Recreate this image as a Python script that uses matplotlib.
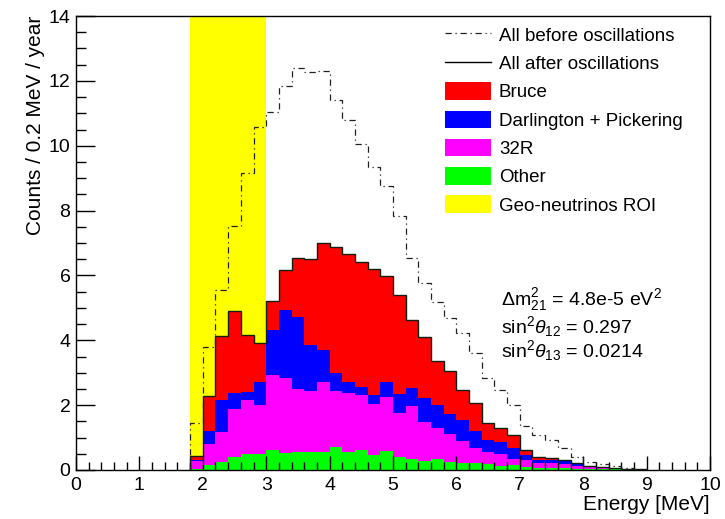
import numpy as np
import matplotlib.pyplot as plt
from matplotlib.lines import Line2D
from matplotlib.patches import Patch

# histogram binning: 0.2 MeV bins from 1.8 to 9.0 MeV
bin_width = 0.2
edges = np.round(1.8 + bin_width * np.arange(37), 2)

# counts per bin for each reactor source
other = [0.03, 0.15, 0.24, 0.39, 0.49, 0.49, 0.61, 0.51, 0.57, 0.54, 0.54, 0.72,
         0.54, 0.62, 0.46, 0.60, 0.39, 0.34, 0.29, 0.33, 0.26, 0.21, 0.22, 0.20,
         0.12, 0.16, 0.08, 0.07, 0.05, 0.05, 0.04, 0.03, 0.02, 0.02, 0.01, 0.01]
r32 = [0.24, 0.64, 0.92, 1.48, 1.67, 1.50, 2.32, 2.34, 1.92, 1.91, 2.18, 1.72,
       1.82, 1.69, 1.58, 1.66, 1.38, 1.63, 1.20, 0.96, 0.85, 0.69, 0.47, 0.35,
       0.37, 0.17, 0.23, 0.16, 0.18, 0.14, 0.08, 0.06, 0.03, 0.02, 0.01, 0.00]
darl_pick = [0.05, 0.42, 1.00, 0.49, 0.25, 0.73, 1.39, 2.08, 2.22, 1.40, 0.98, 0.54,
             0.34, 0.26, 0.27, 0.44, 0.58, 0.55, 0.74, 0.70, 0.61, 0.65, 0.52, 0.36,
             0.38, 0.36, 0.15, 0.08, 0.08, 0.09, 0.07, 0.03, 0.04, 0.02, 0.01, 0.01]
bruce = [0.12, 1.06, 1.97, 2.54, 1.75, 1.21, 0.89, 1.24, 1.84, 2.66, 3.29, 3.91,
         3.97, 3.85, 3.89, 3.27, 3.05, 2.10, 1.86, 1.38, 1.32, 0.93, 0.86, 0.54,
         0.42, 0.39, 0.17, 0.10, 0.07, 0.02, 0.02, 0.01, 0.01, 0.01, 0.01, 0.00]
before_osc = [1.46, 3.80, 5.55, 7.52, 9.17, 10.59, 11.05, 11.84, 12.41, 12.28, 12.30, 11.41,
              10.79, 10.05, 9.35, 8.75, 7.82, 6.53, 5.76, 5.19, 4.70, 4.22, 3.60, 2.83,
              2.47, 2.00, 1.37, 1.07, 0.93, 0.69, 0.41, 0.26, 0.18, 0.13, 0.07, 0.04]

roi = (1.8, 3.0)

plt.rcParams['font.family'] = ['Liberation Sans', 'DejaVu Sans']
plt.rcParams['mathtext.fontset'] = 'custom'
plt.rcParams['mathtext.rm'] = 'Liberation Sans'
plt.rcParams['mathtext.it'] = 'Liberation Sans:italic'

fig = plt.figure(figsize=(7.25, 5.19), dpi=100)
ax = fig.add_axes([76 / 725, 1 - 470 / 519, 634 / 725, 454 / 519])

ax.axvspan(roi[0], roi[1], color='#ffff00', lw=0, zorder=0)

# stacked components, bottom to top
stack = [(other, '#00ff00'), (r32, '#ff00ff'), (darl_pick, '#0000ff'), (bruce, '#ff0000')]
base = np.zeros(len(edges) - 1)
for vals, col in stack:
    top = base + np.array(vals)
    ax.stairs(top, edges, baseline=base, fill=True, color=col, lw=0, zorder=1)
    base = top

ax.stairs(base, edges, color='#102010', lw=1.0, zorder=3)
ax.stairs(before_osc, edges, color='#202020', lw=0.9, linestyle=(0, (5, 3, 1, 3)), zorder=3)

ax.set_xlim(0, 10)
ax.set_ylim(0, 14)
ax.set_xticks(np.arange(0, 11, 1))
ax.set_xticks(np.arange(0, 10.01, 0.2), minor=True)
ax.set_yticks(np.arange(0, 15, 2))
ax.set_yticks(np.arange(0, 14.01, 0.5), minor=True)
ax.tick_params(which='both', direction='in', top=False, right=False, width=1, labelsize=14)
ax.tick_params(axis='x', which='major', length=10, pad=5)
ax.tick_params(axis='x', which='minor', length=5.5)
ax.tick_params(axis='y', which='major', length=14, pad=4)
ax.tick_params(axis='y', which='minor', length=7)
for sp in ax.spines.values():
    sp.set_linewidth(1)

ax.set_xlabel('Energy [MeV]', fontsize=15, loc='right')
ax.xaxis.set_label_coords(1.0, -0.055)
ax.xaxis.label.set_va('top')
ax.set_ylabel('Counts / 0.2 MeV / year', fontsize=15, loc='top')
ax.yaxis.set_label_coords(-0.064, 1.0)
ax.yaxis.label.set_va('center')

handles = [
    Line2D([], [], color='#202020', lw=0.9, linestyle=(0, (5, 3, 1, 3))),
    Line2D([], [], color='black', lw=1.0),
    Patch(facecolor='#ff0000'),
    Patch(facecolor='#0000ff'),
    Patch(facecolor='#ff00ff'),
    Patch(facecolor='#00ff00'),
    Patch(facecolor='#ffff00'),
]
labels = ['All before oscillations', 'All after oscillations', 'Bruce',
          'Darlington + Pickering', '32R', 'Other', 'Geo-neutrinos ROI']
ax.legend(handles, labels, loc='upper left', bbox_to_anchor=(0.5695, 0.995),
          frameon=False, fontsize=13.5, handlelength=2.45, handleheight=1.05,
          handletextpad=0.45, labelspacing=0.49, borderaxespad=0)

ax.text(0.670, 0.3634, r'$\Delta$m$^{2}_{21}$ = 4.8e-5 eV$^{2}$', transform=ax.transAxes,
        fontsize=14, va='baseline')
ax.text(0.670, 0.3011, r'sin$^{2}\mathit{\theta}_{12}$ = 0.297', transform=ax.transAxes,
        fontsize=14, va='baseline')
ax.text(0.670, 0.2482, r'sin$^{2}\mathit{\theta}_{13}$ = 0.0214', transform=ax.transAxes,
        fontsize=14, va='baseline')

fig.savefig('out.png', dpi=100)
